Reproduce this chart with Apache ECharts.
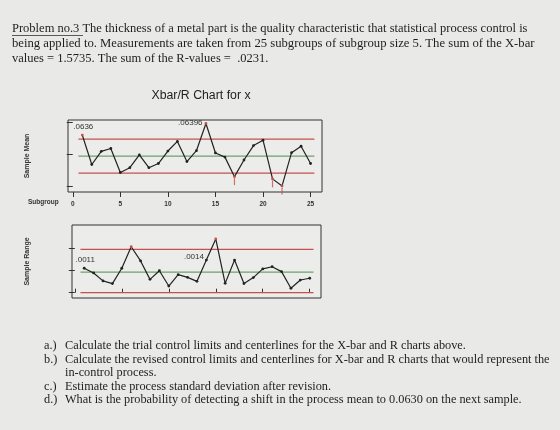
<!DOCTYPE html>
<html><head><meta charset="utf-8">
<script src="https://cdn.jsdelivr.net/npm/echarts@6/dist/echarts.min.js"></script>
<style>html,body{margin:0;padding:0;background:#e9e9e7}#c{width:560px;height:430px}</style>
</head><body><div id="c"></div>
<script>
// ---- data ----
const subgroups = [1,2,3,4,5,6,7,8,9,10,11,12,13,14,15,16,17,18,19,20,21,22,23,24,25];
const xbarValues = [0.0636,0.06268,0.06309,0.06318,0.06243,0.06258,0.06298,0.06258,0.06271,0.0631,0.0634,0.06277,0.06311,0.06396,0.06304,0.06291,0.0623,0.06282,0.06327,0.06344,0.06223,0.06201,0.06305,0.06325,0.06271];
const rangeValues = [0.0011,0.00089,0.00053,0.00041,0.0011,0.00207,0.00143,0.0006,0.00099,0.0003,0.00081,0.00069,0.00051,0.00147,0.00242,0.00042,0.00147,0.00041,0.00068,0.00107,0.00117,0.00095,0.0002,0.00057,0.00065];
const xTicks = [0,5,10,15,20,25];
const xbarTicks = [0.062,0.063,0.064];
const rangeTicks = [0,0.001,0.002];
const sumXbar = 1.5735, sumR = 0.0231, nSub = 25;
const A2 = 0.577, D3 = 0, D4 = 2.114;
const xbarRed = [1,14,17,21,22];
const xbarFlag = [17,21,22];
const rangeRed = [6,15];
const xbarLabels = {1:'.0636', 14:'.06396'};
const rangeLabels = {1:'.0011', 14:'.0014'};

const xbb = sumXbar/nSub, rbar = sumR/nSub;
const xUCL = xbb + A2*rbar, xLCL = xbb - A2*rbar;
const rUCL = D4*rbar, rLCL = D3*rbar;
const lineStart = 0.6, lineEnd = 25.4;

const RED = '#c4514f', GREEN = '#6aa36c', INK = '#222';

function pts(vals, red, labels, labelPos){
  return vals.map((v,i)=>{
    const s = subgroups[i];
    const o = {value:[s,v]};
    if (red.includes(s)) o.itemStyle = {color:RED};
    if (labels[s]) o.label = Object.assign({show:true, formatter:labels[s], fontSize:8, color:'#333', fontFamily:'Liberation Sans'}, labelPos[s]);
    return o;
  });
}
function hline(y){ return [[lineStart,y],[lineEnd,y]]; }
function limitSeries(x, y, val, color){
  return {type:'line', xAxisIndex:x, yAxisIndex:y, data:hline(val), symbol:'none', silent:true,
    lineStyle:{color:color, width:1.3}, z:1};
}

const chart = echarts.init(document.getElementById('c'), null, {renderer:'canvas'});
const axisFont = {fontFamily:'Liberation Sans', fontSize:6.5, fontWeight:'bold', color:'#333'};
const serif = '12.3px "Liberation Serif"';
chart.setOption({
  backgroundColor:'#e9e9e7',
  animation:false,
  title:{text:'Xbar/R Chart for x', left:196, top:85, textAlign:'center',
    textStyle:{fontFamily:'Liberation Sans', fontSize:12.3, fontWeight:'normal', color:'#222'}},
  grid:[
    {left:68, top:120, width:254, height:72, show:true, borderColor:'#333', borderWidth:1, backgroundColor:'#ececea'},
    {left:72, top:225, width:249, height:73, show:true, borderColor:'#333', borderWidth:1, backgroundColor:'#ececea'}
  ],
  xAxis:[
    {gridIndex:0, type:'value', min:-0.5, max:26.2, position:'bottom', axisLine:{show:false},
     axisTick:{show:true, customValues:xTicks, length:5, lineStyle:{color:'#333'}},
     axisLabel:Object.assign({show:true, customValues:xTicks, margin:9}, axisFont), splitLine:{show:false}},
    {gridIndex:1, type:'value', min:-0.3, max:26.2, position:'top', axisLine:{show:false},
     axisTick:{show:true, customValues:xTicks, length:4, lineStyle:{color:'#333'}},
     axisLabel:{show:false}, splitLine:{show:false}}
  ],
  yAxis:[
    {gridIndex:0, type:'value', min:0.06182, max:0.06407, axisLine:{show:false},
     axisTick:{show:true, customValues:xbarTicks, length:6, lineStyle:{color:'#333'}},
     axisLabel:{show:false}, splitLine:{show:false},
     name:'Sample Mean', nameLocation:'middle', nameRotate:90, nameGap:37,
     nameTextStyle:{fontFamily:'Liberation Sans', fontSize:7, fontWeight:'bold', color:'#333'}},
    {gridIndex:1, type:'value', min:-0.00024, max:0.00305, axisLine:{show:false},
     axisTick:{show:true, customValues:rangeTicks, length:6, lineStyle:{color:'#333'}},
     axisLabel:{show:false}, splitLine:{show:false},
     name:'Sample Range', nameLocation:'middle', nameRotate:90, nameGap:41,
     nameTextStyle:{fontFamily:'Liberation Sans', fontSize:7, fontWeight:'bold', color:'#333'}}
  ],
  series:[
    limitSeries(0,0,xUCL,RED), limitSeries(0,0,xbb,GREEN), limitSeries(0,0,xLCL,RED),
    limitSeries(1,1,rUCL,RED), limitSeries(1,1,rbar,GREEN), limitSeries(1,1,rLCL,RED),
    {type:'line', xAxisIndex:0, yAxisIndex:0, z:3, symbol:'circle', symbolSize:2.8,
     lineStyle:{color:INK, width:1.2}, itemStyle:{color:INK},
     data:pts(xbarValues, xbarRed, xbarLabels, {1:{position:'top', distance:3, offset:[1,0]}, 14:{position:'left', distance:2, offset:[0,-1]}})},
    {type:'scatter', xAxisIndex:0, yAxisIndex:0, z:2, symbol:'rect', symbolSize:[1.2,7], symbolOffset:[0,5],
     itemStyle:{color:RED},
     data:xbarFlag.map(s=>[s, xbarValues[s-1]])},
    {type:'line', xAxisIndex:1, yAxisIndex:1, z:3, symbol:'circle', symbolSize:2.8,
     lineStyle:{color:INK, width:1.2}, itemStyle:{color:INK},
     data:pts(rangeValues, rangeRed, rangeLabels, {1:{position:'top', distance:3, offset:[1,0]}, 14:{position:'left', distance:2, offset:[1,-3]}})}
  ],
  graphic:[
    {type:'text', left:28, top:199, style:{text:'Subgroup', font:'bold 6.5px "Liberation Sans"', fill:'#333'}},
    {type:'text', left:12, top:22, style:{text:'Problem no.3 The thickness of a metal part is the quality characteristic that statistical process control is', font:'12.5px "Liberation Serif"', fill:'#1e1e1e'}},
    {type:'line', shape:{x1:12, y1:35.5, x2:83, y2:35.5}, style:{stroke:'#333', lineWidth:0.8}},
    {type:'text', left:12, top:37, style:{text:'being applied to. Measurements are taken from 25 subgroups of subgroup size 5. The sum of the X-bar', font:'12.7px "Liberation Serif"', fill:'#1e1e1e'}},
    {type:'text', left:12, top:52, style:{text:'values = 1.5735. The sum of the R-values =  .0231.', font:'12.5px "Liberation Serif"', fill:'#1e1e1e'}},
    {type:'text', left:44, top:340, style:{text:'a.)', font:serif, fill:'#1e1e1e'}},
    {type:'text', left:65, top:340, style:{text:'Calculate the trial control limits and centerlines for the X-bar and R charts above.', font:serif, fill:'#1e1e1e'}},
    {type:'text', left:44, top:354, style:{text:'b.)', font:serif, fill:'#1e1e1e'}},
    {type:'text', left:65, top:354, style:{text:'Calculate the revised control limits and centerlines for X-bar and R charts that would represent the', font:serif, fill:'#1e1e1e'}},
    {type:'text', left:65, top:367, style:{text:'in-control process.', font:serif, fill:'#1e1e1e'}},
    {type:'text', left:44, top:381, style:{text:'c.)', font:serif, fill:'#1e1e1e'}},
    {type:'text', left:65, top:381, style:{text:'Estimate the process standard deviation after revision.', font:serif, fill:'#1e1e1e'}},
    {type:'text', left:44, top:394, style:{text:'d.)', font:serif, fill:'#1e1e1e'}},
    {type:'text', left:65, top:394, style:{text:'What is the probability of detecting a shift in the process mean to 0.0630 on the next sample.', font:serif, fill:'#1e1e1e'}}
  ]
});
</script></body></html>
